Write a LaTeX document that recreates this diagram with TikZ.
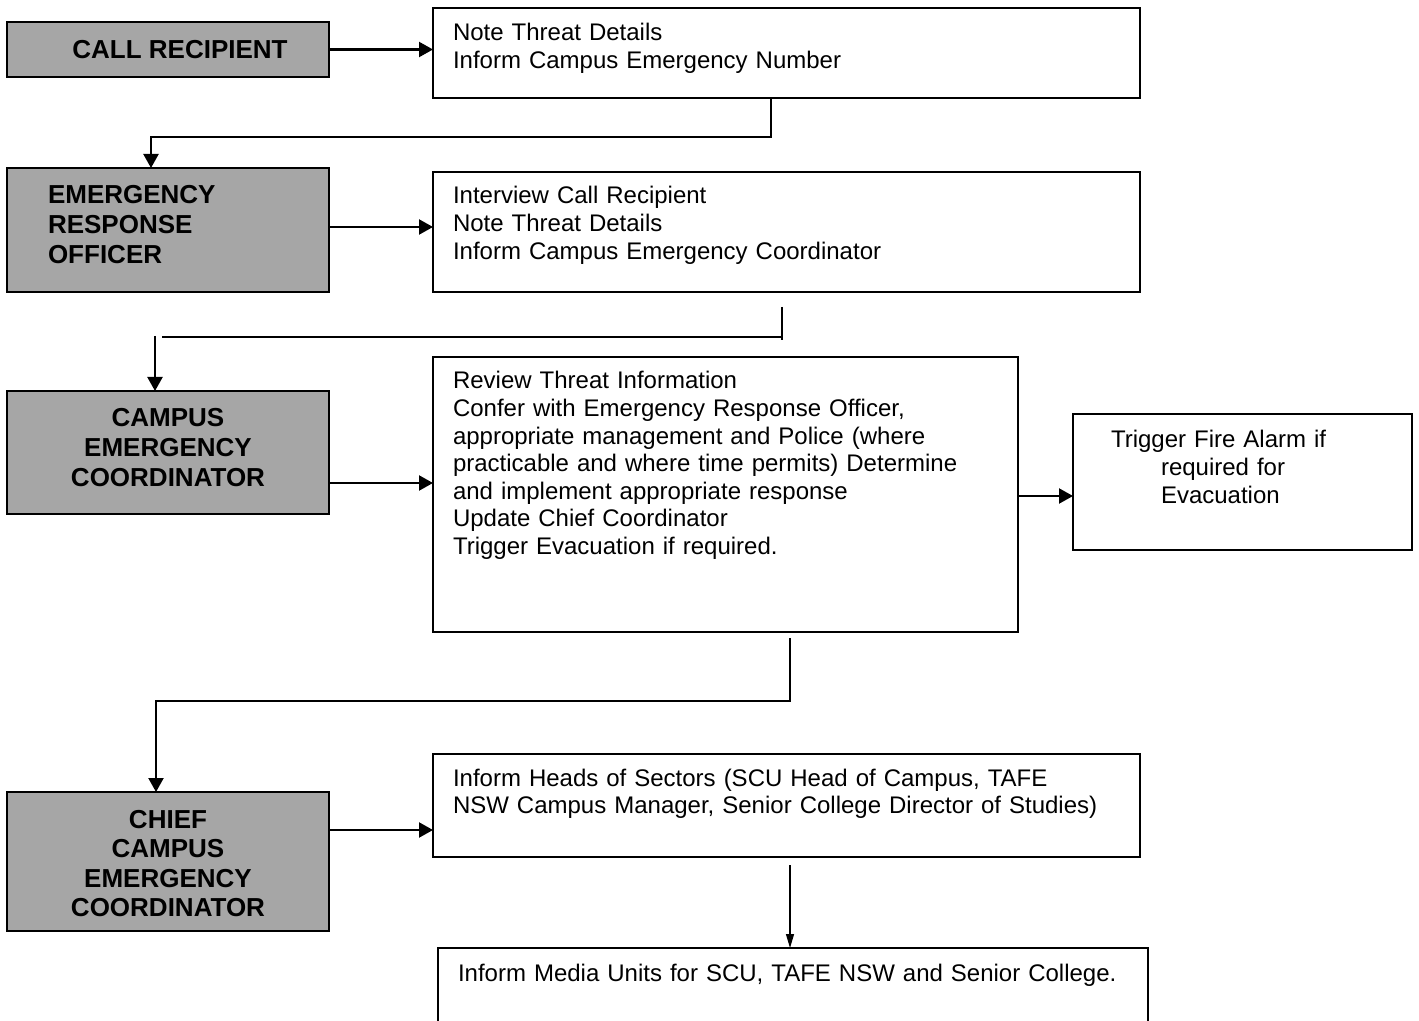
\documentclass[tikz,border=0pt]{standalone}
\usepackage{fontspec}
\setmainfont{Liberation Sans}
\usetikzlibrary{arrows.meta}
\definecolor{rolegray}{RGB}{166,166,166}

\begin{document}
\begin{tikzpicture}[x=0.5pt, y=-0.5pt,
    role/.style={draw, fill=rolegray, line width=0.6pt, anchor=north west, outer sep=0pt,
      inner ysep=0pt, font=\fontsize{13}{14.8}\selectfont\bfseries},
    task/.style={draw, line width=0.6pt, anchor=north west, outer sep=0pt, inner xsep=10pt,
      inner ysep=0pt, align=left, font=\fontsize{12}{13.8}\selectfont},
    flow/.style={line width=1.1pt, -{Triangle[length=7pt,width=7.5pt]}},
    plain/.style={line width=1.1pt}]
  \useasboundingbox (0,0) rectangle (1419,1021);

  % who acts
  \node[role, minimum width=161pt, minimum height=27.5pt, inner xsep=0pt] (caller) at (7,22)
    {\hspace*{12pt}CALL RECIPIENT};
  \node[role, inner xsep=20.5pt, text width=120pt, align=left, text height=18pt, text depth=44pt] (ero) at (7,168)
    {EMERGENCY\\RESPONSE\\OFFICER};
  \node[role, inner xsep=10pt, text width=141pt, align=center, text height=18pt, text depth=43.5pt] (cec) at (7,391)
    {CAMPUS\\EMERGENCY\\COORDINATOR};
  \node[role, inner xsep=10pt, text width=141pt, align=center, text height=18pt, text depth=51.5pt] (chief) at (7,792)
    {CHIEF\\CAMPUS\\EMERGENCY\\COORDINATOR};

  % what they do
  \node[task, text width=333.5pt, text height=16.5pt, text depth=28.5pt] (note) at (433,8)
    {Note Threat Details\\Inform Campus Emergency Number};
  \node[task, text width=333.5pt, text height=16pt, text depth=44pt] (interview) at (433,172)
    {Interview Call Recipient\\Note Threat Details\\Inform Campus Emergency Coordinator};
  \node[task, text width=272.5pt, text height=16pt, text depth=121.5pt] (review) at (433,357)
    {Review Threat Information\\Confer with Emergency Response Officer,\\appropriate management and Police (where\\practicable and where time permits) Determine\\and implement appropriate response\\Update Chief Coordinator\\Trigger Evacuation if required.};
  \node[task, text width=149.5pt, text height=17pt, text depth=51pt] (alarm) at (1073,414)
    {\hspace*{9pt}Trigger Fire Alarm if\\\hspace*{34pt}required for\\\hspace*{34pt}Evacuation};
  \node[task, text width=333.5pt, text height=16pt, text depth=35.5pt] (heads) at (433,754)
    {Inform Heads of Sectors (SCU Head of Campus, TAFE\\NSW Campus Manager, Senior College Director of Studies)};
  \node[task, text width=335pt, text height=16.5pt, text depth=39.5pt] (media) at (438,948)
    {Inform Media Units for SCU, TAFE NSW and Senior College.};

  \coordinate (drop) at (782,307);
  \coordinate (join) at (162,337);
  \coordinate (start) at (155,336);

  \draw[flow] (caller.east) -- (caller.east -| note.west);
  \draw[flow] (note.south -| 771,0) |- (151,137) -- (ero.north -| 151,0);
  \draw[flow] (ero.east |- 0,227) -- (interview.west |- 0,227);
  \draw[plain] (drop) -- ++(0,33);
  \draw[plain] (join) -- (join -| drop);
  \draw[flow] (start) -- (cec.north -| start);
  \draw[flow] (cec.east |- 0,483) -- (review.west |- 0,483);
  \draw[flow] (review.east |- 0,496) -- (alarm.west |- 0,496);
  \draw[flow] (review.south -| 790,0) ++(0,6) |- (156,701) -- (chief.north -| 156,0);
  \draw[flow] (chief.east |- 0,830) -- (heads.west |- 0,830);
  \draw[line width=0.6pt, -{Triangle[length=7pt,width=4pt]}] (heads.south -| 790,0) ++(0,8) -- (media.north -| 790,0);
\end{tikzpicture}
\end{document}
